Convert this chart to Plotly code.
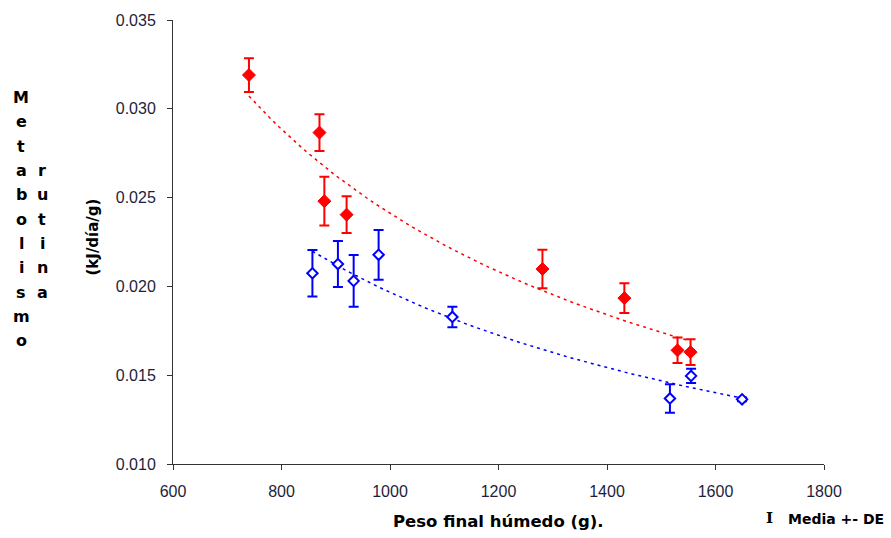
import numpy as np
import plotly.graph_objects as go

# Routine metabolism vs final wet weight, two groups (mean +- SD)
red_x = [740, 870, 879, 920, 1281, 1432, 1530, 1554]
red_y = [0.0319, 0.02866, 0.0248, 0.02404, 0.02098, 0.01934, 0.0164, 0.0163]
red_sd = [0.00095, 0.00103, 0.00137, 0.00104, 0.00109, 0.00084, 0.00072, 0.00072]

blue_x = [857, 904, 933, 979, 1115, 1516, 1555, 1649]
blue_y = [0.02074, 0.02126, 0.02031, 0.02178, 0.01828, 0.01369, 0.01496, 0.01364]
blue_sd = [0.00131, 0.0013, 0.00146, 0.0014, 0.00058, 0.0008, 0.0004, 0.0001]

x_ticks = [600, 800, 1000, 1200, 1400, 1600, 1800]
y_ticks = [0.010, 0.015, 0.020, 0.025, 0.030, 0.035]

RED = "#FF0000"
BLUE = "#0000FF"


def power_fit(xs, ys, n=60):
    """Least-squares power trend y = a * x^b over the data range."""
    lx, ly = np.log(xs), np.log(ys)
    b, la = np.polyfit(lx, ly, 1)
    xf = np.linspace(min(xs), max(xs), n)
    return xf, np.exp(la) * xf ** b


fig = go.Figure()

for xs, ys, col in [(red_x, red_y, RED), (blue_x, blue_y, BLUE)]:
    xf, yf = power_fit(xs, ys)
    fig.add_trace(go.Scatter(
        x=xf, y=yf, mode="lines",
        line=dict(color=col, width=1.5, dash="3px,4px"),
        hoverinfo="skip", showlegend=False,
    ))

fig.add_trace(go.Scatter(
    x=red_x, y=red_y, mode="markers",
    marker=dict(symbol="diamond", size=10, color=RED, line=dict(color=RED, width=1)),
    error_y=dict(type="data", array=red_sd, color=RED, thickness=2, width=5),
    showlegend=False,
))
fig.add_trace(go.Scatter(
    x=blue_x, y=blue_y, mode="markers",
    marker=dict(symbol="diamond", size=8, color="white", line=dict(color=BLUE, width=2)),
    error_y=dict(type="data", array=blue_sd, color=BLUE, thickness=2, width=5),
    showlegend=False,
))

axis_font = dict(family="Liberation Sans, Arial, sans-serif", size=16, color="#1e1e3c")
fig.update_xaxes(
    range=[600, 1800], tickvals=x_ticks, ticktext=[str(v) for v in x_ticks],
    showline=True, linecolor="#333333", linewidth=1,
    ticks="outside", ticklen=5, tickcolor="#333333", ticklabelstandoff=8,
    showgrid=False, zeroline=False, tickfont=axis_font,
)
fig.update_yaxes(
    range=[0.010, 0.035], tickvals=y_ticks, ticktext=[f"{v:.3f}" for v in y_ticks],
    showline=True, linecolor="#333333", linewidth=1,
    ticks="outside", ticklen=5, tickcolor="#333333", ticklabelstandoff=8,
    showgrid=False, zeroline=False, tickfont=axis_font,
)


def px_x(px):
    return (px - 173) / 651


def px_y(py):
    return (464 - py) / 447


title_font = dict(family="DejaVu Sans, Verdana, sans-serif", size=16.5, color="black")
annotations = [
    dict(text="<b>Peso final húmedo (g).</b>", x=0.5, y=px_y(522),
         xref="paper", yref="paper", showarrow=False, font=title_font,
         xanchor="center", yanchor="middle"),
    dict(text="<b>(kJ/día/g)</b>", x=px_x(93), y=px_y(236),
         xref="paper", yref="paper", showarrow=False, font=dict(title_font, size=15),
         textangle=-90, xanchor="center", yanchor="middle"),
    dict(text="<b>Media +- DE</b>", x=px_x(786), y=px_y(519),
         xref="paper", yref="paper", showarrow=False, font=dict(title_font, size=14),
         xanchor="left", yanchor="middle"),
    dict(text="<b>I</b>", x=px_x(764), y=px_y(518),
         xref="paper", yref="paper", showarrow=False,
         font=dict(family="DejaVu Serif, serif", size=15, color="black"),
         xanchor="left", yanchor="middle"),
]


# Vertically stacked y-axis title letters
def stacked(word, x_px, first_row):
    out = []
    for i, ch in enumerate(word):
        y_px = 95 + (first_row + i) * 24.5
        out.append(dict(text=f"<b>{ch}</b>", x=px_x(x_px), y=px_y(y_px),
                        xref="paper", yref="paper", showarrow=False,
                        font=dict(title_font, size=16),
                        xanchor="center", yanchor="middle"))
    return out


annotations += stacked("Metabolismo", 21, 0)
annotations += stacked("rutina", 42, 3)

fig.update_layout(
    width=891, height=538,
    margin=dict(l=173, r=67, t=17, b=74),
    paper_bgcolor="white", plot_bgcolor="white",
    annotations=annotations,
)

fig.write_html("out.html")
